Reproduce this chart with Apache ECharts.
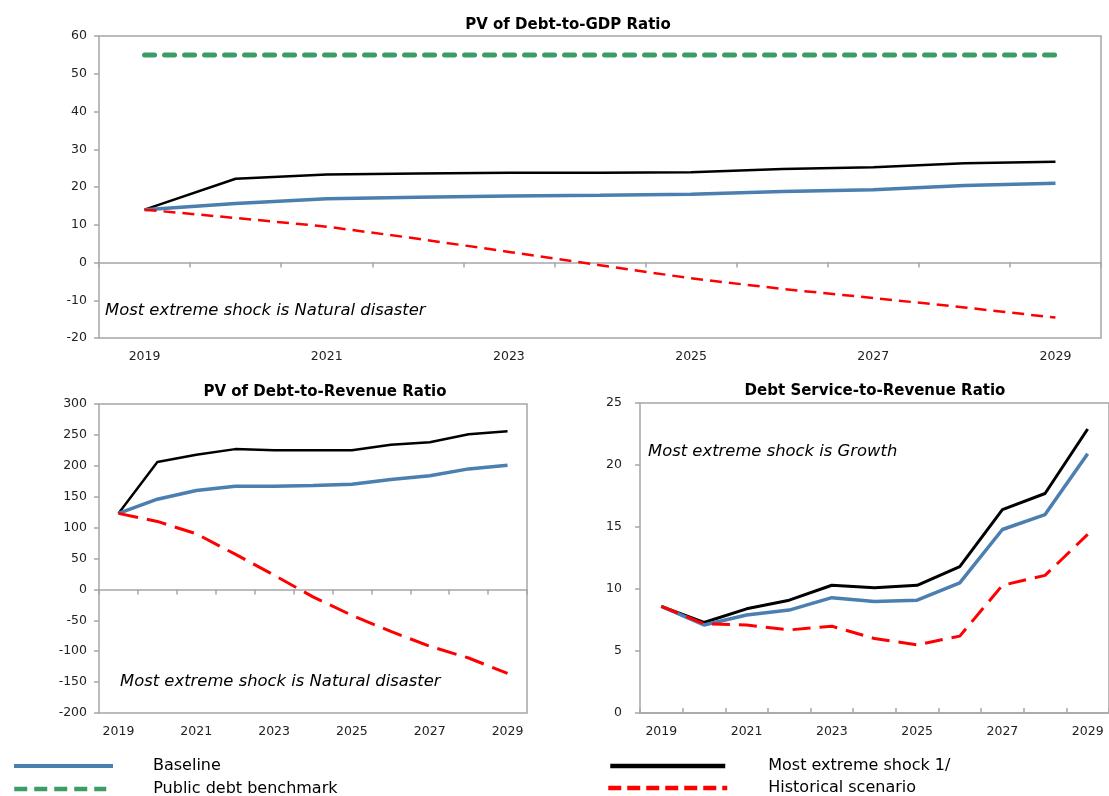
<!DOCTYPE html>
<html>
<head>
<meta charset="utf-8">
<script src="https://cdn.jsdelivr.net/npm/echarts@6/dist/echarts.min.js"></script>
<style>html,body{margin:0;padding:0;background:#fff}#c{width:1109px;height:796px}</style>
</head>
<body>
<div id="c"></div>
<script>
const years = ['2019','2020','2021','2022','2023','2024','2025','2026','2027','2028','2029'];

// PV of Debt-to-GDP Ratio
const gdpBaseline = [14, 15.6, 16.9, 17.3, 17.6, 17.8, 18.1, 18.8, 19.3, 20.4, 21.0];
const gdpShock    = [14, 22.2, 23.3, 23.6, 23.8, 23.8, 23.9, 24.8, 25.2, 26.3, 26.7];
const gdpHist     = [14, 11.8, 9.5, 6.3, 2.8, -0.7, -4.2, -7.0, -9.4, -11.9, -14.6];
const gdpBench    = [55, 55, 55, 55, 55, 55, 55, 55, 55, 55, 55];

// PV of Debt-to-Revenue Ratio
const revBaseline = [123, 146, 160, 167, 167, 168, 170, 178, 184, 195, 201];
const revShock    = [123, 206, 218, 227, 225, 225, 225, 234, 238, 251, 256];
const revHist     = [123, 110, 90, 57, 23, -12, -42, -68, -92, -111, -136];

// Debt Service-to-Revenue Ratio
const dsBaseline = [8.6, 7.1, 7.9, 8.3, 9.3, 9.0, 9.1, 10.5, 14.8, 16.0, 20.9];
const dsShock    = [8.6, 7.3, 8.4, 9.1, 10.3, 10.1, 10.3, 11.8, 16.4, 17.7, 22.9];
const dsHist     = [8.6, 7.2, 7.1, 6.7, 7.0, 6.0, 5.5, 6.2, 10.3, 11.1, 14.4];

const FONT = 'DejaVu Sans';
const BORDER = '#A6A6A6';
const BLUE = '#4A7FB0', GREEN = '#3A9D66', RED = '#FF0000', BLACK = '#000000';
const TICKFONT = { fontFamily: FONT, fontSize: 12.5, color: '#222' };

function labelAxis(gi) {
  return {
    type: 'category', gridIndex: gi, data: years, position: 'bottom',
    boundaryGap: true,
    axisLine: { show: false, onZero: false },
    axisTick: { show: false },
    axisLabel: Object.assign({ interval: 1, margin: 12 }, TICKFONT)
  };
}
function zeroAxis(gi) {
  return {
    type: 'category', gridIndex: gi, data: years, boundaryGap: true,
    axisLine: { show: true, onZero: true, lineStyle: { color: BORDER, width: 1.5 } },
    axisTick: { show: true, inside: true, length: 5, interval: 0, lineStyle: { color: BORDER, width: 1.5 } },
    axisLabel: { show: false }
  };
}
function yAxis(gi, min, max, interval, margin) {
  return {
    type: 'value', gridIndex: gi, min: min, max: max, interval: interval,
    axisLine: { show: false },
    axisTick: { show: true, length: 5, lineStyle: { color: BORDER, width: 1.5 } },
    splitLine: { show: false },
    axisLabel: Object.assign({ margin: margin }, TICKFONT)
  };
}
function line(name, xi, yi, data, color, width, type, cap) {
  return {
    name: name, type: 'line', xAxisIndex: xi, yAxisIndex: yi, data: data,
    symbol: 'none', silent: true, animation: false,
    lineStyle: { color: color, width: width, type: type || 'solid', cap: cap || 'butt' },
    itemStyle: { color: color }
  };
}
function legend(name, left, top, iconWidth, lineWidth, dash, pad) {
  return {
    data: [name], left: left, top: top, padding: 0,
    itemWidth: iconWidth, itemHeight: 14,
    selectedMode: false,
    itemStyle: { opacity: 0, color: 'rgba(0,0,0,0)', borderWidth: 0 },
    lineStyle: { width: lineWidth, type: dash || 'solid', cap: 'butt' },
    textStyle: { fontFamily: FONT, fontSize: 16, color: '#000', padding: [0, 0, 0, pad] }
  };
}

const chart = echarts.init(document.getElementById('c'), null, { renderer: 'canvas' });
chart.setOption({
  animation: false,
  backgroundColor: '#fff',
  title: [
    { text: 'PV of Debt-to-GDP Ratio', left: 563, top: 13, textAlign: 'center',
      textStyle: { fontFamily: FONT, fontSize: 15, fontWeight: 'bold', color: '#000' } },
    { text: 'PV of Debt-to-Revenue Ratio', left: 320, top: 380, textAlign: 'center',
      textStyle: { fontFamily: FONT, fontSize: 15, fontWeight: 'bold', color: '#000' } },
    { text: 'Debt Service-to-Revenue Ratio', left: 870, top: 379, textAlign: 'center',
      textStyle: { fontFamily: FONT, fontSize: 15, fontWeight: 'bold', color: '#000' } }
  ],
  grid: [
    { left: 99, top: 36, width: 1002, height: 302, show: true, borderColor: BORDER, borderWidth: 1.5, containLabel: false },
    { left: 99, top: 404, width: 428, height: 309, show: true, borderColor: BORDER, borderWidth: 1.5, containLabel: false },
    { left: 640, top: 403, width: 476, height: 310, show: true, borderColor: BORDER, borderWidth: 1.5, containLabel: false }
  ],
  xAxis: [
    labelAxis(0), zeroAxis(0),
    labelAxis(1), zeroAxis(1),
    Object.assign(zeroAxis(2), { axisLabel: Object.assign({ show: true, interval: 1, margin: 12 }, TICKFONT) })
  ],
  yAxis: [
    yAxis(0, -20, 60, 10, 12),
    yAxis(1, -200, 300, 50, 12),
    yAxis(2, 0, 25, 5, 18)
  ],
  legend: [
    legend('Baseline', 12, 758, 99, 4, 'solid', 35),
    legend('Public debt benchmark', 12, 781, 92, 4.5, [13, 7], 42),
    legend('Most extreme shock 1/', 608, 758, 115, 4.5, 'solid', 38),
    legend('Historical scenario', 606, 780, 119, 4.5, [13, 6], 36)
  ],
  series: [
    line('Public debt benchmark', 1, 0, gdpBench, GREEN, 5, [10, 10], 'round'),
    line('Most extreme shock 1/', 1, 0, gdpShock, BLACK, 2.5),
    line('Baseline', 1, 0, gdpBaseline, BLUE, 3.5),
    line('Historical scenario', 1, 0, gdpHist, RED, 2.5, [12, 7]),

    line('Most extreme shock 1/', 3, 1, revShock, BLACK, 2.5),
    line('Baseline', 3, 1, revBaseline, BLUE, 3.5),
    line('Historical scenario', 3, 1, revHist, RED, 3, [20, 9]),

    line('Most extreme shock 1/', 4, 2, dsShock, BLACK, 3),
    line('Baseline', 4, 2, dsBaseline, BLUE, 3.5),
    line('Historical scenario', 4, 2, dsHist, RED, 3, [18, 9])
  ],
  graphic: [
    { type: 'text', left: 105, top: 303, style: { text: 'Most extreme shock is Natural disaster', font: 'italic 16.4px "DejaVu Sans"', fill: '#000' } },
    { type: 'text', left: 120, top: 674, style: { text: 'Most extreme shock is Natural disaster', font: 'italic 16.4px "DejaVu Sans"', fill: '#000' } },
    { type: 'text', left: 648, top: 444, style: { text: 'Most extreme shock is Growth', font: 'italic 16.4px "DejaVu Sans"', fill: '#000' } }
  ]
});
</script>
</body>
</html>
